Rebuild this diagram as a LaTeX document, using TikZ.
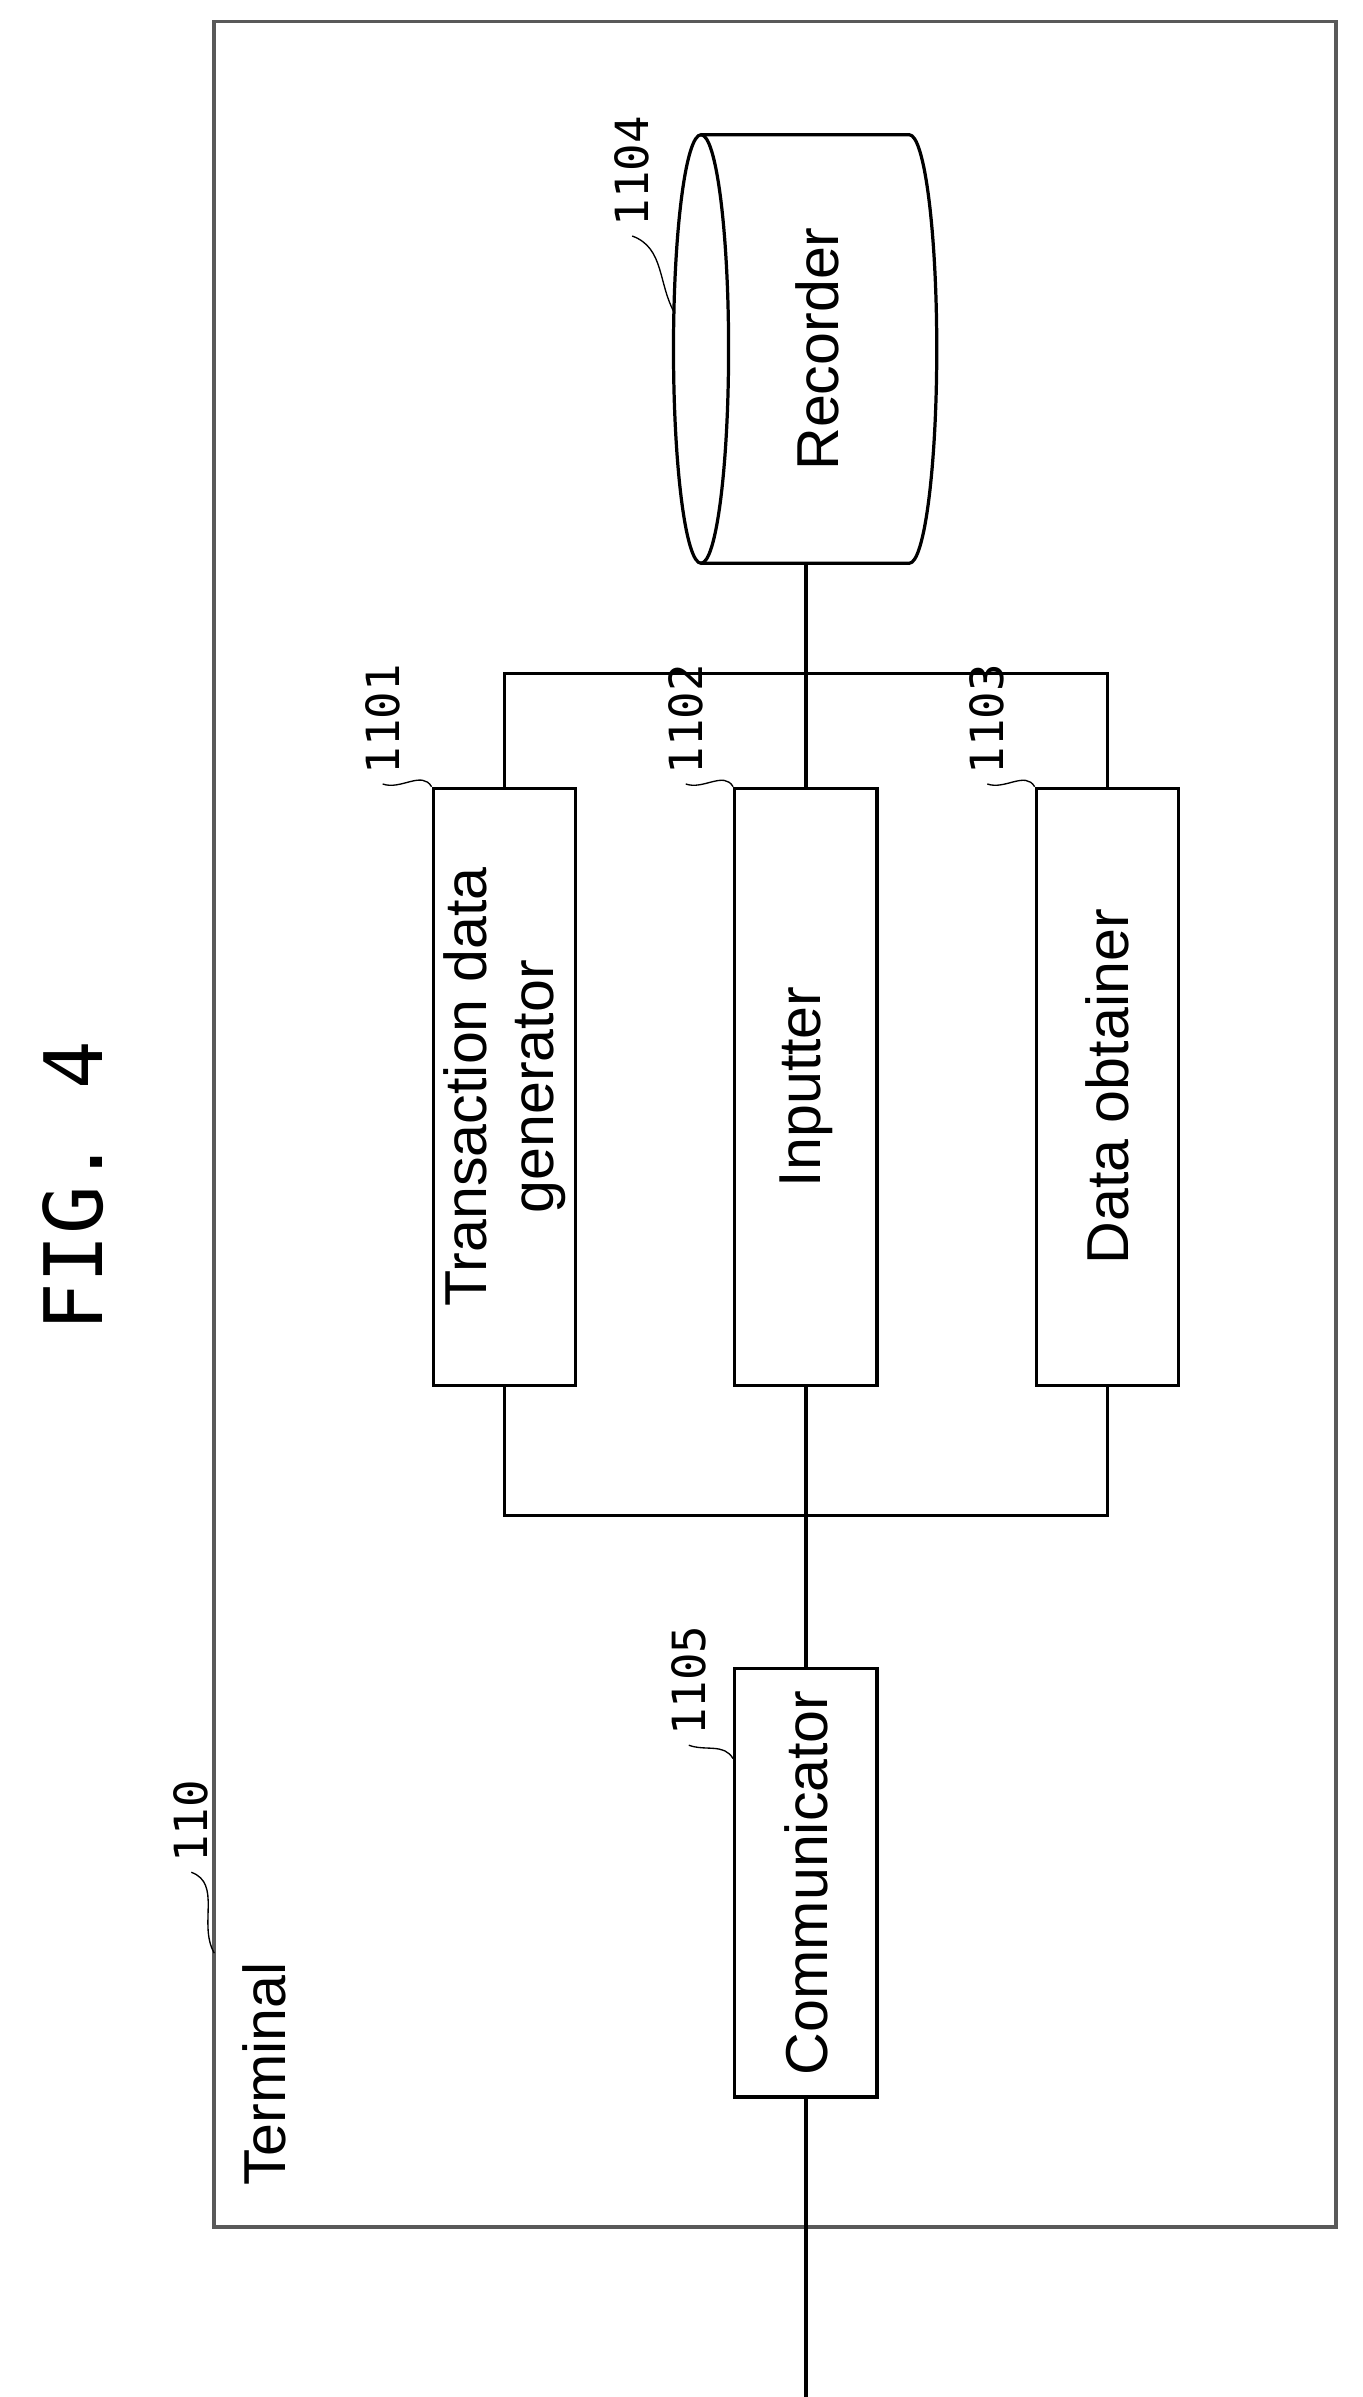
\documentclass[tikz,border=0pt]{standalone}
\usepackage{fontspec}
\setmainfont{Liberation Sans}
\newfontfamily\numfont{DejaVu Sans Mono}
\usetikzlibrary{positioning,calc}
\tikzset{
	block/.style={draw, line width=1.2pt, rotate=90, inner sep=2pt, align=center,
		font=\fontsize{22}{25}\selectfont},
	num/.style={rotate=90, font=\numfont\fontsize{17}{20}\selectfont},
	leader/.style={line width=0.5pt},
	wire/.style={line width=1.3pt}
}
\begin{document}
\begin{tikzpicture}[x=0.02cm, y=-0.02cm]
	\useasboundingbox (0,0) rectangle (890,1566);
	\node[num, font=\numfont\fontsize{30}{34}\selectfont] (fig) at (48,775) {FIG. 4};
	\draw[line width=1.4pt, gray!70!black] (140,14) rectangle (873,1455);
	\node[rotate=90, font=\fontsize{22}{25}\selectfont] (term) at (173,1355) {Terminal};
	% blocks
	\node[block, minimum width=7.8cm, minimum height=1.86cm] (gen) at (329.5,710) {Transaction data\\generator};
	\node[block, minimum width=7.8cm, minimum height=1.86cm] (inp) at (526.5,710) {Inputter};
	\node[block, minimum width=7.8cm, minimum height=1.86cm] (obt) at (723.5,710) {Data obtainer};
	\node[block, minimum width=5.6cm, minimum height=1.86cm] (com) at (526.5,1230) {Communicator};
	% recorder cylinder
	\draw[line width=1.2pt] (458,88) -- (594,88) arc[start angle=90, end angle=-90, x radius=18, y radius=-140] -- (458,368);
	\draw[line width=1.2pt] (458,228) ellipse[x radius=18, y radius=140];
	\node[rotate=90, font=\fontsize{22}{25}\selectfont] (rec) at (534,228) {Recorder};
	\coordinate (recb) at (526.5,368);
	\coordinate (out) at (526.5,1566);
	% wiring
	\draw[wire] (recb) -- (inp.east);
	\draw[wire] (gen.east) |- (526.5,440) -| (obt.east);
	\draw[wire] (gen.west) |- (526.5,990) -| (obt.west);
	\draw[wire] (inp.west) -- (com.east);
	\draw[wire] (com.west) -- (out);
	% reference numerals
	\node[num] (n1101) at (250,470) {1101};
	\node[num] (n1102) at (448,470) {1102};
	\node[num] (n1103) at (645,470) {1103};
	\node[num] (n1104) at (413,112) {1104};
	\node[num] (n1105) at (450,1098) {1105};
	\node[num] (n110) at (125,1190) {110};
	\draw[leader] (n1101.west) to[out=-20,in=120] (gen.north east);
	\draw[leader] (n1102.west) to[out=-20,in=120] (inp.north east);
	\draw[leader] (n1103.west) to[out=-20,in=120] (obt.north east);
	\draw[leader] (n1104.west) to[out=-20,in=120] (441,205);
	\draw[leader] (n1105.west) to[out=-20,in=120] ($(com.north east)+(0,60)$);
	\draw[leader] (n110.west) to[out=-20,in=120] (140,1276);
\end{tikzpicture}
\end{document}
